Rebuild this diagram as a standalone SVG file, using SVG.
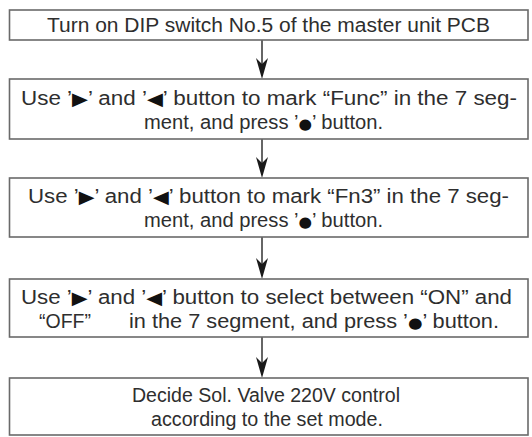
<svg xmlns="http://www.w3.org/2000/svg" width="532" height="437" viewBox="0 0 532 437">
<style>
.box{fill:#fff;stroke:#6a6a6a;stroke-width:1.6}
.t{font-family:"Liberation Sans","DejaVu Sans",Arial,sans-serif;font-size:19.5px;fill:#2e2e2e}
.g{font-family:"DejaVu Sans",sans-serif;font-size:18px;fill:#111}
.b{font-family:"DejaVu Sans",sans-serif;font-size:15px;fill:#111}
.ln{stroke:#333;stroke-width:1.5;fill:none}
.ah{fill:#1a1a1a}
</style>
<defs>
<path id="head" d="M0,0 L-6,-21 L0,-15 L6,-21 Z"/>
</defs>
<rect width="532" height="437" fill="#fff"/>
<g id="connectors">
<line class="ln" x1="262" y1="40" x2="262" y2="64"/>
<use href="#head" class="ah" x="262" y="79"/>
<line class="ln" x1="262" y1="139" x2="262" y2="163"/>
<use href="#head" class="ah" x="262" y="178"/>
<line class="ln" x1="262" y1="237" x2="262" y2="264"/>
<use href="#head" class="ah" x="262" y="279"/>
<line class="ln" x1="262" y1="337" x2="262" y2="363"/>
<use href="#head" class="ah" x="262" y="378"/>
</g>
<g id="node1">
<rect class="box" x="9.5" y="10" width="518.5" height="30"/>
<text class="t" x="47" y="32" textLength="443" lengthAdjust="spacingAndGlyphs">Turn on DIP switch No.5 of the master unit PCB</text>
</g>
<g id="node2">
<rect class="box" x="9.5" y="79" width="518.5" height="60"/>
<text class="t" x="21" y="105" textLength="496" lengthAdjust="spacingAndGlyphs">Use ’<tspan class="g">▶</tspan>’ and ’<tspan class="g">◀</tspan>’ button to mark “Func” in the 7 seg-</text>
<text class="t" x="144" y="129" textLength="239" lengthAdjust="spacingAndGlyphs">ment, and press ’<tspan class="b">●</tspan>’ button.</text>
</g>
<g id="node3">
<rect class="box" x="9.5" y="178" width="518.5" height="59"/>
<text class="t" x="28" y="203" textLength="481" lengthAdjust="spacingAndGlyphs">Use ’<tspan class="g">▶</tspan>’ and ’<tspan class="g">◀</tspan>’ button to mark “Fn3” in the 7 seg-</text>
<text class="t" x="144" y="227" textLength="239" lengthAdjust="spacingAndGlyphs">ment, and press ’<tspan class="b">●</tspan>’ button.</text>
</g>
<g id="node4">
<rect class="box" x="9.5" y="279" width="518.5" height="58"/>
<text class="t" x="21" y="304" textLength="491" lengthAdjust="spacingAndGlyphs">Use ’<tspan class="g">▶</tspan>’ and ’<tspan class="g">◀</tspan>’ button to select between “ON” and</text>
<text class="t" x="39" y="328">“OFF”</text>
<text class="t" x="129" y="328" textLength="370" lengthAdjust="spacingAndGlyphs">in the 7 segment, and press ’<tspan class="b">●</tspan>’ button.</text>
</g>
<g id="node5">
<rect class="box" x="9.5" y="378" width="518.5" height="57"/>
<text class="t" x="132" y="402" textLength="268" lengthAdjust="spacingAndGlyphs">Decide Sol. Valve 220V control</text>
<text class="t" x="151" y="426" textLength="232" lengthAdjust="spacingAndGlyphs">according to the set mode.</text>
</g>
</svg>
